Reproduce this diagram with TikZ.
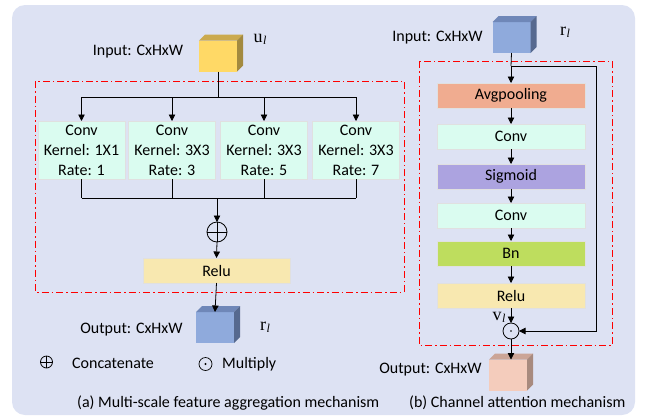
\documentclass[tikz,border=0pt]{standalone}
\usepackage{fontspec}
\setmainfont{Carlito}
\newfontfamily\serifm{Liberation Serif}
\usetikzlibrary{arrows.meta}
\definecolor{bgc}{HTML}{DDE2F3}
\definecolor{convc}{HTML}{DAFCF0}
\definecolor{reluc}{HTML}{F8E8B0}
\definecolor{avgc}{HTML}{F0AC90}
\definecolor{sigc}{HTML}{ACA3E0}
\definecolor{bnc}{HTML}{BEDD5E}
\definecolor{yfront}{HTML}{FFD966}
\definecolor{ytop}{HTML}{CBAA4E}
\definecolor{yside}{HTML}{A38A3F}
\definecolor{bfront}{HTML}{8FAADC}
\definecolor{btop}{HTML}{6F87B8}
\definecolor{bside}{HTML}{56698F}
\definecolor{pfront}{HTML}{F4CCBC}
\definecolor{ptop}{HTML}{CBA597}
\definecolor{pside}{HTML}{A88A7E}
\newcommand{\mycube}[5]{%
  \node[cubefront, fill=#3] (#1) at (#2) {};
  \fill[#4] (#1.north west) -- ++(6,-6) -- ++(38,0) -- (#1.north east) -- cycle;
  \fill[#5] (#1.north east) -- ++(6,-6) -- ++(0,31) -- (#1.south east) -- cycle;
}
\newcommand{\vsym}[1]{{\serifm\fontsize{18}{18}\selectfont #1\kern0.5pt\raisebox{-2pt}{\fontsize{12}{12}\selectfont\itshape l}}}
\begin{document}
\begin{tikzpicture}[x=1pt,y=-1pt,
  font=\fontsize{16}{20}\selectfont,
  cubefront/.style={minimum width=38pt, minimum height=31pt, inner sep=0pt, outer sep=0pt},
  blk/.style={draw=black!12, line width=0.4pt, inner sep=0pt, outer sep=0pt},
  convbox/.style={blk, fill=convc, minimum width=87pt, minimum height=58pt, align=center},
  rbox/.style={blk, minimum width=148pt, minimum height=25pt},
  arr/.style={-{Triangle[length=6.5pt,width=6.5pt]}, line width=0.8pt},
  ln/.style={line width=0.8pt},
  reddash/.style={draw=red, line width=0.7pt, dash pattern=on 7pt off 3pt on 1.5pt off 3pt},
  lbl/.style={inner sep=0pt},
  opc/.style={circle, draw, line width=0.8pt, inner sep=0pt, outer sep=0pt}
]
\useasboundingbox (0,0) rectangle (647,418);
\fill[bgc, rounded corners=13pt] (12,5) rectangle (635,415);

% ---------- left part ----------
\draw[reddash] (35,81) rectangle (404,292);
\mycube{cu}{218,56}{yfront}{ytop}{yside}
\node[lbl] (inL) at (138,52) {Input: CxHxW};
\node[lbl] (uL) at (260,39) {\vsym{u}};

\node[convbox] (c1) at (81.5,150) {Conv\\Kernel: 1X1\\Rate: 1};
\node[convbox] (c2) at (172,150) {Conv\\Kernel: 3X3\\Rate: 3};
\node[convbox] (c3) at (264,150) {Conv\\Kernel: 3X3\\Rate: 5};
\node[convbox] (c4) at (356,150) {Conv\\Kernel: 3X3\\Rate: 7};

\coordinate (sp) at (218,97);
\draw[ln] (cu.south) -- (sp);
\draw[ln] (c1.north |- sp) -- (c4.north |- sp);
\foreach \c in {c1,c2,c3,c4} \draw[arr] (\c.north |- sp) -- (\c.north);

\node[opc, minimum size=20pt] (plus) at (217,232) {};
\draw[line width=0.8pt] (plus.north) -- (plus.south) (plus.west) -- (plus.east);
\coordinate (mg) at (217,198);
\foreach \c in {c1,c2,c3,c4} \draw[ln] (\c.south) -- (\c.south |- mg);
\draw[ln] (c1.south |- mg) -- (c4.south |- mg);
\draw[arr] (mg) -- (plus.north);

\node[rbox, fill=reluc, minimum width=147pt] (reluL) at (216.5,270.5) {Relu};
\draw[arr] (plus.south) -- (reluL.north);
\mycube{co}{215,327.5}{bfront}{btop}{bside}
\draw[arr] (reluL.south) -- (co.north);
\node[lbl] (outL) at (131.5,330) {Output: CxHxW};
\node[lbl] (rL) at (265,327) {\vsym{r}};

% legend
\node[opc, minimum size=12pt] (lgp) at (46.5,362) {};
\draw[line width=0.7pt] (lgp.north) -- (lgp.south) (lgp.west) -- (lgp.east);
\node[lbl, anchor=west] (lgpt) at (72,363) {Concatenate};
\node[opc, minimum size=13pt, line width=0.7pt] (lgm) at (205.5,364) {};
\fill (lgm.center) circle (1.1pt);
\node[lbl, anchor=west] (lgmt) at (222,364) {Multiply};

\node[lbl, anchor=west] (capA) at (77,403) {(a) Multi-scale feature aggregation mechanism};

% ---------- right part ----------
\draw[reddash] (419,61) rectangle (612,345);
\mycube{ci}{511.5,37.5}{bfront}{btop}{bside}
\node[lbl] (inR) at (437.5,38) {Input: CxHxW};
\node[lbl] (rR) at (565,32) {\vsym{r}};

\node[rbox, fill=avgc] (avg) at (511,95.5) {Avgpooling};
\node[rbox, fill=convc] (cv1) at (511,136.5) {Conv};
\node[rbox, fill=sigc] (sig) at (511,176.5) {Sigmoid};
\node[rbox, fill=convc] (cv2) at (511,215.5) {Conv};
\node[rbox, fill=bnc] (bn) at (511,253.5) {Bn};
\node[rbox, fill=reluc] (reluR) at (511,295.5) {Relu};
\node[opc, minimum size=16pt] (mul) at (511,331) {};
\fill (mul.center) circle (0.8pt);

\coordinate (br) at (511,66);
\draw[ln] (ci.south) -- (br);
\draw[arr] (br) -- (avg.north);
\draw[arr] (avg) -- (cv1);
\draw[arr] (cv1) -- (sig);
\draw[arr] (sig) -- (cv2);
\draw[arr] (cv2) -- (bn);
\draw[arr] (bn) -- (reluR);
\draw[arr] (reluR) -- (mul);
\draw[arr] (br) -- (596,66) -- (596,331) -- (mul.east);
\node[lbl] (vL) at (499,317) {\vsym{v}};

\mycube{cp}{508,375}{pfront}{ptop}{pside}
\draw[arr] (mul.south) -- (mul.south |- cp.north);
\node[lbl] (outR) at (430.5,370) {Output: CxHxW};
\node[lbl, anchor=west] (capB) at (409,403) {(b) Channel attention mechanism};
\end{tikzpicture}
\end{document}
